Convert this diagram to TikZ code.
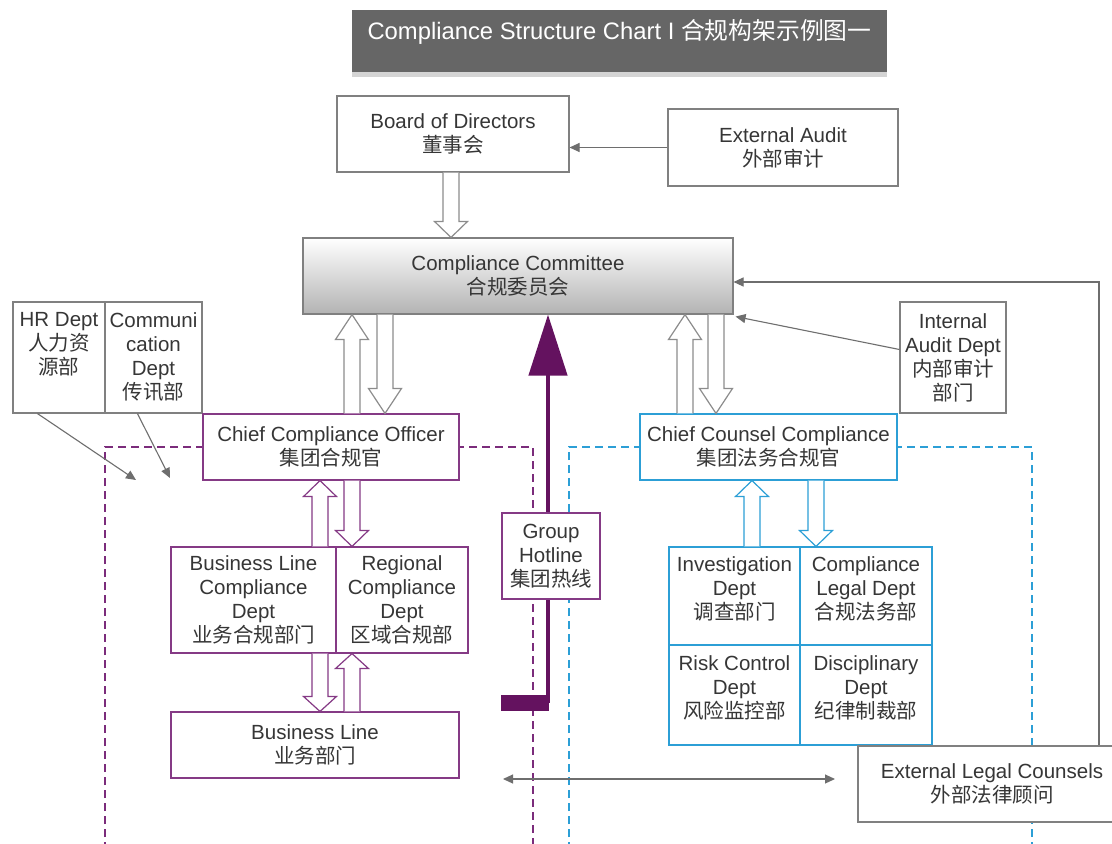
\documentclass[tikz,border=0pt]{standalone}
\usepackage{fontspec}
\setmainfont{Liberation Sans}
\newfontfamily\cjk{Noto Sans CJK SC}
\newcommand\zh[1]{{\cjk #1}}
\usetikzlibrary{arrows.meta,calc}
\definecolor{bgray}{HTML}{808080}
\definecolor{agray}{HTML}{6E6E6E}
\definecolor{hgray}{HTML}{8C8C8C}
\definecolor{purp}{HTML}{853A85}
\definecolor{purpd}{HTML}{7B2C7B}
\definecolor{hotp}{HTML}{64125F}
\definecolor{blu}{HTML}{2C9FD6}
\definecolor{txt}{HTML}{363636}
\definecolor{titleg}{HTML}{666666}
\definecolor{stripg}{HTML}{D4D4D4}
\newcommand\harrow[5]{%
  \draw[#1] let \p1=(#3), \p2=(#4), \n1={ifthenelse(\y2>\y1,1,-1)} in
  ({#2pt-8pt},\y1) -- ({#2pt-8pt},{\y2-\n1*#5pt}) -- ({#2pt-16.5pt},{\y2-\n1*#5pt}) --
  ({#2pt},\y2) -- ({#2pt+16.5pt},{\y2-\n1*#5pt}) -- ({#2pt+8pt},{\y2-\n1*#5pt}) -- ({#2pt+8pt},\y1);}
\tikzset{
  box/.style={draw=bgray, line width=1.1pt, fill=white, align=center, text=txt,
    font=\fontsize{20.5}{24}\selectfont, inner sep=0pt, anchor=center},
  pbox/.style={box, draw=purp},
  bbox/.style={box, draw=blu},
  conn/.style={draw=agray, line width=1.1pt, -{Triangle[length=10pt,width=9pt]}},
  hollowg/.style={draw=hgray, line width=1.2pt, fill=white},
  hollowp/.style={draw=purp, line width=1.2pt, fill=white},
  hollowb/.style={draw=blu, line width=1.2pt, fill=white},
  pdash/.style={draw=purpd, line width=1.2pt, dash pattern=on 8pt off 5pt},
  bdash/.style={draw=blu, line width=1.2pt, dash pattern=on 8pt off 5pt},
}
\begin{document}
\begin{tikzpicture}[x=1pt,y=-1pt]
\useasboundingbox (0,0) rectangle (1112,844);
\clip (0,0) rectangle (1112,844);
\fill[white] (0,0) rectangle (1112,844);
% title
\fill[titleg] (352,10) rectangle (887,72);
\fill[stripg] (352,72) rectangle (887,77);
\node[text=white, font=\fontsize{23.8}{28}\selectfont, inner sep=0pt] (title) at (619.5,32) {Compliance Structure Chart I \zh{合规构架示例图一}};
% dashed frames
\draw[pdash] (105,850) -- (105,447) -- (533,447) -- (533,850);
\draw[bdash] (569,850) -- (569,447) -- (1032,447) -- (1032,850);
% nodes
\node[box, minimum width=232pt, minimum height=76pt] (board) at (453,134) {Board of Directors\\\zh{董事会}};
\node[box, minimum width=230pt, minimum height=77pt] (extaudit) at (783,147.5) {External Audit\\\zh{外部审计}};
\node[box, minimum width=430pt, minimum height=76pt, top color=white, bottom color=black!30] (comm) at (518,276) {Compliance Committee\\\zh{合规委员会}};
\node[box, minimum width=92pt, minimum height=111pt] (hr) at (59,357.5) {HR Dept\\\zh{人力资}\\\zh{源部}\\[5pt]\mbox{}};
\node[box, minimum width=97pt, minimum height=111pt] (commu) at (153.5,357.5) {Communi\\cation\\Dept\\\zh{传讯部}};
\node[box, minimum width=106pt, minimum height=111pt] (ia) at (953,357.5) {Internal\\Audit Dept\\\zh{内部审计}\\\zh{部门}};
% hotline thick arrow
\fill[hotp] (501,695) rectangle (549,711);
\coordinate (hbar) at (548,703);
\draw[hotp, line width=4.5pt, -{Triangle[length=61pt,width=38pt]}] (hbar) -- (548,0 |- comm.south);
\node[pbox, minimum width=98pt, minimum height=86pt] (hotline) at (551,556) {Group\\Hotline\\\zh{集团热线}};
\node[pbox, minimum width=256pt, minimum height=66pt] (cco) at (331,447) {Chief Compliance Officer\\\zh{集团合规官}};
\node[bbox, minimum width=257pt, minimum height=66pt] (ccc) at (768.5,447) {Chief Counsel Compliance\\\zh{集团法务合规官}};
\node[pbox, minimum width=165pt, minimum height=106pt] (blc) at (253.5,600) {Business Line\\Compliance\\Dept\\\zh{业务合规部门}};
\node[pbox, minimum width=132pt, minimum height=106pt] (rc) at (402,600) {Regional\\Compliance\\Dept\\\zh{区域合规部}};
\node[pbox, minimum width=288pt, minimum height=66pt] (bl) at (315,745) {Business Line\\\zh{业务部门}};
\node[bbox, minimum width=131pt, minimum height=98pt] (inv) at (734.5,596) {Investigation\\Dept\\\zh{调查部门}\\[-8pt]\mbox{}};
\node[bbox, minimum width=132pt, minimum height=98pt] (cld) at (866,596) {Compliance\\Legal Dept\\\zh{合规法务部}\\[-8pt]\mbox{}};
\node[bbox, minimum width=131pt, minimum height=100pt] (risk) at (734.5,695) {Risk Control\\Dept\\\zh{风险监控部}\\[-8pt]\mbox{}};
\node[bbox, minimum width=132pt, minimum height=100pt] (disc) at (866,695) {Disciplinary\\Dept\\\zh{纪律制裁部}\\[-8pt]\mbox{}};
\node[box, minimum width=268pt, minimum height=76pt] (elc) at (992,784) {External Legal Counsels\\\zh{外部法律顾问}};
% hollow arrows
\harrow{hollowg}{451}{board.south}{comm.north}{16}
\harrow{hollowg}{352}{cco.north}{comm.south}{25}
\harrow{hollowg}{385}{comm.south}{cco.north}{25}
\harrow{hollowg}{685}{ccc.north}{comm.south}{25}
\harrow{hollowg}{716}{comm.south}{ccc.north}{25}
\harrow{hollowp}{320}{blc.north}{cco.south}{16}
\harrow{hollowp}{352}{cco.south}{rc.north}{16}
\harrow{hollowp}{320}{blc.south}{bl.north}{15}
\harrow{hollowp}{352}{bl.north}{rc.south}{15}
\harrow{hollowb}{752}{inv.north}{ccc.south}{16}
\harrow{hollowb}{816}{ccc.south}{cld.north}{16}
% thin connectors
\draw[conn] (extaudit.west) -- (extaudit.west -| board.east);
\draw[conn] ($(ia.west)+(0,-8)$) -- ($(comm.south east)+(2,2)$);
\coordinate (elcup) at (1099,282);
\draw[conn] (1099,0 |- elc.north) -- (elcup) -- (comm.east |- elcup);
\coordinate (hrend) at (136,480);
\coordinate (commuend) at (170,478);
\draw[conn] ($(hr.south west)+(25,0)$) -- (hrend);
\draw[conn] ($(commu.south west)+(33,0)$) -- (commuend);
\coordinate (dl) at (503,779);
\coordinate (dr) at (835,779);
\draw[conn, {Triangle[length=10pt,width=9pt]}-{Triangle[length=10pt,width=9pt]}] (dl) -- (dr);
\end{tikzpicture}
\end{document}
